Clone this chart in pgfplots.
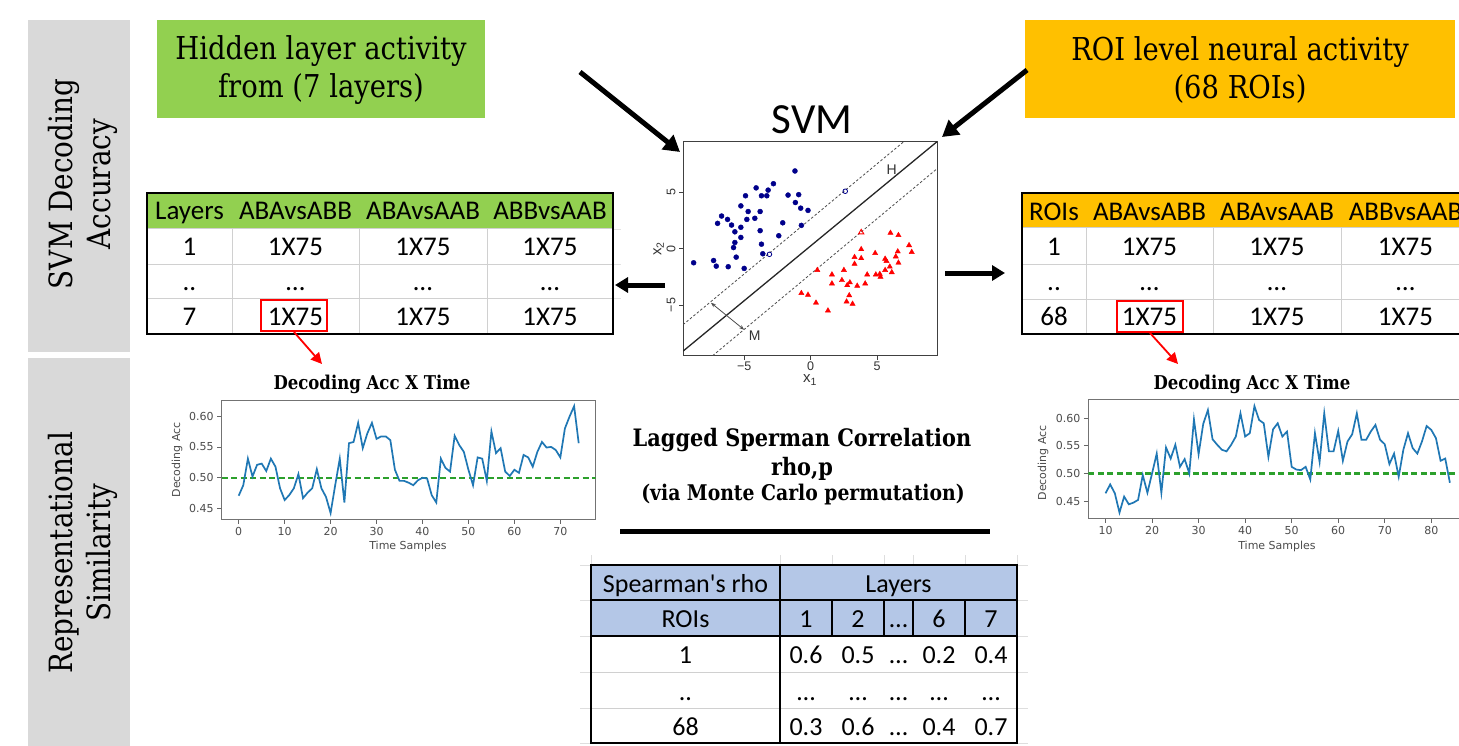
\documentclass[border=0pt]{standalone}
\usepackage{fontspec}
\usepackage{pgfplots}
\usepackage{pgfplotstable}
\pgfplotsset{compat=1.18}
\usetikzlibrary{arrows.meta}
\newfontfamily\slab[FakeStretch=0.87]{DejaVu Serif}
\newfontfamily\calib{Carlito}
\newfontfamily\dvs{DejaVu Sans}
\newfontfamily\lsans{Liberation Sans}
\definecolor{mygreen}{HTML}{92D050}
\definecolor{myorange}{HTML}{FFC000}
\definecolor{mygray}{HTML}{D9D9D9}
\definecolor{myblue}{HTML}{B4C7E7}
\definecolor{cz}{HTML}{1F77B4}
\definecolor{cg}{HTML}{2CA02C}
\definecolor{svmblue}{HTML}{00008B}
\definecolor{gridgray}{HTML}{D0D0D0}
\newcommand{\fs}[2]{\fontsize{#1}{#2}\selectfont}

\pgfplotstableread{
x y
0 0.471
1 0.488
2 0.531
3 0.502
4 0.521
5 0.523
6 0.511
7 0.531
8 0.518
9 0.483
10 0.464
11 0.472
12 0.483
13 0.506
14 0.467
15 0.476
16 0.483
17 0.514
18 0.483
19 0.469
20 0.443
21 0.488
22 0.531
23 0.460
24 0.556
25 0.558
26 0.589
27 0.548
28 0.572
29 0.589
30 0.563
31 0.567
32 0.567
33 0.561
34 0.513
35 0.495
36 0.495
37 0.492
38 0.488
39 0.496
40 0.500
41 0.499
42 0.472
43 0.460
44 0.531
45 0.516
46 0.510
47 0.568
48 0.553
49 0.542
50 0.513
51 0.488
52 0.533
53 0.531
54 0.495
55 0.575
56 0.540
57 0.548
58 0.510
59 0.503
60 0.513
61 0.508
62 0.537
63 0.533
64 0.518
65 0.542
66 0.558
67 0.549
68 0.550
69 0.545
70 0.533
71 0.580
72 0.599
73 0.616
74 0.556
}\layerdata

\pgfplotstableread{
x y
10 0.464
11 0.480
12 0.464
13 0.429
14 0.458
15 0.444
16 0.447
17 0.452
18 0.497
19 0.465
20 0.500
21 0.536
22 0.465
23 0.547
24 0.527
25 0.552
26 0.512
27 0.526
28 0.500
29 0.598
30 0.535
31 0.590
32 0.615
33 0.562
34 0.552
35 0.543
36 0.540
37 0.552
38 0.567
39 0.609
40 0.567
41 0.573
42 0.622
43 0.597
44 0.591
45 0.530
46 0.580
47 0.591
48 0.567
49 0.576
50 0.512
51 0.507
52 0.506
53 0.512
54 0.489
55 0.573
56 0.521
57 0.609
58 0.540
59 0.540
60 0.577
61 0.523
62 0.558
63 0.571
64 0.609
65 0.561
66 0.561
67 0.576
68 0.588
69 0.561
70 0.553
71 0.517
72 0.536
73 0.494
74 0.543
75 0.573
76 0.546
77 0.536
78 0.558
79 0.586
80 0.579
81 0.564
82 0.523
83 0.527
84 0.483
}\roidata

\begin{document}
\begin{tikzpicture}[x=1pt,y=-1pt]
\useasboundingbox (0,0) rectangle (1459,746);
\begin{scope}
\clip (0,0) rectangle (1459,746);
\fill[white] (0,0) rectangle (1459,746);

% side bars
\fill[mygray] (28,20) rectangle (130,352);
\fill[mygray] (28,358) rectangle (130,746);
\node[rotate=90, align=center, font=\slab\fs{32}{38}] at (83,184) {SVM Decoding\\Accuracy};
\node[rotate=90, align=center, font=\slab\fs{32}{38}] at (83,553) {Representational\\Similarity};

% top boxes
\fill[mygreen] (157,20) rectangle (485,118);
\node[align=center, font=\slab\fs{31.5}{38}] at (321,70) {Hidden layer activity\\from (7 layers)};
\fill[myorange] (1025,20) rectangle (1455,118);
\node[align=center, font=\slab\fs{31.5}{38}] at (1240,70) {ROI level neural activity\\(68 ROIs)};

% big arrows
\draw[line width=5pt, -{Triangle[length=16pt,width=18pt]}] (580,72) -- (680,152);
\draw[line width=5pt, -{Triangle[length=16pt,width=18pt]}] (1027,70) -- (942,137);
\draw[line width=5pt, -{Triangle[length=13pt,width=15pt]}] (665,285) -- (615,285);
\draw[line width=5pt, -{Triangle[length=13pt,width=15pt]}] (945,273) -- (1005,273);

\node[font=\calib\fs{43}{50}] at (812,120) {SVM};

% SVM scatter
\coordinate (svmNW) at (683,141.7);
\begin{axis}[at={(svmNW)}, anchor=north west, scale only axis,
  width=254pt, height=214pt,
  xmin=-9.6, xmax=9.5, ymin=-9.5, ymax=9.5,
  xtick={-5,0,5}, xticklabels={−5,0,5},
  ytick={-5,0,5}, yticklabels={−5,0,5},
  tick pos=left, tick align=outside, major tick length=4pt,
  axis line style={black!75, line width=0.9pt},
  tick style={black!75, line width=0.8pt},
  ticklabel style={font=\lsans\fs{12.5}{14}, text=black!80},
  xticklabel style={yshift=1pt},
  yticklabel style={rotate=90, anchor=south},
  xlabel={x\textsubscript{1}}, ylabel={x\textsubscript{2}},
  label style={font=\lsans\fs{15}{17}, text=black!80},
  xlabel style={yshift=3pt}, ylabel style={yshift=-4pt}]
\addplot[black!85, line width=1.3pt] coordinates {(-9.6,-9.1) (9.5,9.5)};
\addplot[black!70, line width=0.8pt, dash pattern=on 2.5pt off 2pt] coordinates {(-9.6,-6.75) (7.0,9.5)};
\addplot[black!70, line width=0.8pt, dash pattern=on 2.5pt off 2pt] coordinates {(-7.37,-9.5) (9.5,7.1)};
\addplot[black!70, line width=0.8pt, {Stealth[length=5pt]-Stealth[length=5pt]}] coordinates {(-7.5,-4.8) (-5.0,-7.2)};
\node[font=\lsans\fs{14}{16}, text=black!80] at (axis cs:6.1,7.0) {H};
\node[font=\lsans\fs{14}{16}, text=black!80] at (axis cs:-4.2,-7.7) {M};
\addplot[only marks, mark=*, mark size=2.5pt, svmblue] coordinates {
(-1.18,6.9) (-2.8,5.77) (-4.1,5.4) (-3.2,5.2) (-4.9,4.7) (-3.7,4.7) (-3.3,4.7)
(-1.7,4.76) (-0.9,4.8) (-1.15,4.1) (-5.25,3.8) (-0.75,3.6) (-0.2,3.4) (-4.7,3.3)
(-3.8,3.3) (-6.7,2.9) (-6.25,2.6) (-4.8,2.6) (-4.2,2.7) (-7.0,2.25) (-2.1,2.3)
(-5.95,2.1) (-0.7,2.07) (-5.25,1.9) (-5.7,1.5) (-3.8,1.6) (-5.25,1.0) (-2.4,1.15)
(-5.7,0.55) (-3.7,0.4) (-5.8,0.1) (-3.6,-0.45) (-5.6,-0.75) (-7.3,-1.05)
(-8.8,-1.25) (-7.1,-1.55) (-6.2,-1.6) (-5.0,-1.75)};
\addplot[only marks, mark=o, mark size=2.3pt, svmblue, line width=0.8pt] coordinates {(2.6,5.1) (-3.1,-0.5)};
\addplot[only marks, mark=triangle*, mark size=3pt, red] coordinates {
(6.0,1.4) (6.6,1.2) (7.4,0.3) (7.6,-0.3) (6.55,-0.25) (3.8,-0.05) (4.85,-0.4)
(3.3,-0.75) (3.8,-0.85) (6.4,-0.7) (5.6,-0.9) (5.7,-1.1) (6.6,-1.25) (3.3,-1.35)
(5.95,-1.6) (5.6,-1.9) (0.5,-1.9) (2.5,-1.9) (6.1,-2.1) (1.6,-2.3) (4.25,-2.3)
(4.9,-2.3) (5.2,-2.25) (5.25,-2.5) (2.35,-2.8) (2.95,-3.0) (1.6,-3.1) (4.1,-3.1)
(2.75,-3.25) (3.5,-3.3) (-0.7,-3.95) (-0.2,-4.1) (2.9,-4.15) (0.4,-4.8)
(2.7,-4.7) (3.15,-4.9) (1.3,-5.5)};
\addplot[only marks, mark=triangle, mark size=3pt, red, line width=0.9pt] coordinates {(3.8,1.45)};
\end{axis}

% left table
\fill[mygreen] (147,193) rectangle (613,229);
\draw[gridgray, line width=1pt] (147,229) -- (613,229) (147,264) -- (613,264) (147,298) -- (613,298)
  (232,229) -- (232,334) (359,229) -- (359,334) (487,229) -- (487,334);
\draw[gridgray!60, line width=0.8pt] (613,229) -- (621,229) (613,264) -- (621,264) (613,298) -- (621,298);
\draw[black, line width=2pt] (147,193) rectangle (613,334);
\begin{scope}[every node/.style={font=\calib\fs{27}{32}, anchor=base, inner sep=0pt}]
\node at (189.5,220) {Layers}; \node at (295.5,220) {ABAvsABB}; \node at (423,220) {ABAvsAAB}; \node at (550,220) {ABBvsAAB};
\node at (189.5,255) {1}; \node at (295.5,255) {1X75}; \node at (423,255) {1X75}; \node at (550,255) {1X75};
\node at (189.5,290) {..}; \node at (295.5,290) {…}; \node at (423,290) {…}; \node at (550,290) {…};
\node at (189.5,325) {7}; \node at (295.5,325) {1X75}; \node at (423,325) {1X75}; \node at (550,325) {1X75};
\end{scope}
\draw[red, line width=2pt] (260.7,300) rectangle (326.7,330.7);
\draw[red, line width=1.8pt, -{Triangle[length=11pt,width=11pt]}] (294,332) -- (322,364);

% right table
\fill[myorange] (1022,193) rectangle (1470,228);
\draw[gridgray, line width=1pt] (1022,228) -- (1470,228) (1022,264) -- (1470,264) (1022,299) -- (1470,299)
  (1086,228) -- (1086,334) (1213,228) -- (1213,334) (1341,228) -- (1341,334);
\draw[black, line width=2pt] (1022,193) rectangle (1470,334);
\begin{scope}[every node/.style={font=\calib\fs{27}{32}, anchor=base, inner sep=0pt}]
\node at (1054,221) {ROIs}; \node at (1149.5,221) {ABAvsABB}; \node at (1277,221) {ABAvsAAB}; \node at (1405.5,221) {ABBvsAAB};
\node at (1054,255) {1}; \node at (1149.5,255) {1X75}; \node at (1277,255) {1X75}; \node at (1405.5,255) {1X75};
\node at (1054,290) {..}; \node at (1149.5,290) {…}; \node at (1277,290) {…}; \node at (1405.5,290) {…};
\node at (1054,325) {68}; \node at (1149.5,325) {1X75}; \node at (1277,325) {1X75}; \node at (1405.5,325) {1X75};
\end{scope}
\draw[red, line width=2pt] (1116.7,301) rectangle (1182.7,331.7);
\draw[red, line width=1.8pt, -{Triangle[length=11pt,width=11pt]}] (1150,333) -- (1178,364);

% left line plot
\node[font=\slab\bfseries\fs{19}{22}] at (372,384) {Decoding Acc X Time};
\coordinate (lpNW) at (221.7,400.7);
\begin{axis}[at={(lpNW)}, anchor=north west, scale only axis,
  width=374pt, height=118.3pt,
  xmin=-3.7, xmax=77.7, ymin=0.4333, ymax=0.6248,
  xtick={0,10,20,30,40,50,60,70}, xticklabels={0,10,20,30,40,50,60,70},
  ytick={0.45,0.5,0.55,0.6}, yticklabels={0.45,0.50,0.55,0.60},
  tick pos=left, tick align=outside, major tick length=4.5pt,
  axis line style={black!55, line width=1pt},
  tick style={black!60, line width=0.8pt},
  ticklabel style={font=\dvs\fs{11}{13}, text=black!70}]
\addplot[color=cg, line width=2pt, dash pattern=on 6pt off 3.5pt] coordinates {(-3.7,0.5) (77.7,0.5)};
\addplot[color=cz, line width=1.7pt] table[x=x,y=y] {\layerdata};
\end{axis}
\node[font=\dvs\fs{11}{13}, text=black!70] at (408,546) {Time Samples};
\node[font=\dvs\fs{11}{13}, text=black!70, rotate=90] at (177,460) {Decoding Acc};

% right line plot
\node[font=\slab\bfseries\fs{19}{22}] at (1252,384) {Decoding Acc X Time};
\coordinate (rpNW) at (1088.3,399.3);
\begin{axis}[at={(rpNW)}, anchor=north west, scale only axis,
  width=378.8pt, height=119pt,
  xmin=6.3, xmax=87.7, ymin=0.4186, ymax=0.6345,
  xtick={10,20,30,40,50,60,70,80}, xticklabels={10,20,30,40,50,60,70,80},
  ytick={0.45,0.5,0.55,0.6}, yticklabels={0.45,0.50,0.55,0.60},
  tick pos=left, tick align=outside, major tick length=4.5pt,
  axis line style={black!55, line width=1pt},
  tick style={black!60, line width=0.8pt},
  ticklabel style={font=\dvs\fs{11}{13}, text=black!70}]
\addplot[draw=cg, line width=2.2pt, dash pattern=on 6pt off 3.5pt] coordinates {(6.3,0.5) (87.7,0.5)};
\addplot[color=cz, line width=1.7pt] table[x=x,y=y] {\roidata};
\end{axis}
\node[font=\dvs\fs{11}{13}, text=black!70] at (1277,546) {Time Samples};
\node[font=\dvs\fs{11}{13}, text=black!70, rotate=90] at (1043,463) {Decoding Acc};

% lagged text
\node[font=\slab\bfseries\fs{24}{28}] at (802,440) {Lagged Sperman Correlation};
\node[font=\slab\bfseries\fs{24}{28}] at (802,469) {rho,p};
\node[font=\slab\bfseries\fs{21.6}{25}] at (803,495) {(via Monte Carlo permutation)};
\draw[line width=5pt] (620,531) -- (990,531);

% bottom table
\draw[gridgray!70, line width=0.8pt] (580,565) -- (1028,565) (580,600) -- (1028,600) (580,636) -- (1028,636)
  (580,672) -- (1028,672) (580,708) -- (1028,708) (580,743) -- (1028,743)
  (780,555) -- (780,565) (832,555) -- (832,565) (884,555) -- (884,565) (913,555) -- (913,565)
  (965,555) -- (965,565) (1017,555) -- (1017,565) (591,555) -- (591,565);
\fill[myblue] (591,565) rectangle (1017,636);
\draw[gridgray, line width=1pt] (591,672) -- (1017,672) (591,708) -- (1017,708);
\draw[black, line width=1.6pt] (591,600) -- (1017,600) (591,636) -- (1017,636) (780,565) -- (780,743)
  (832,600) -- (832,636) (884,600) -- (884,636) (913,600) -- (913,636) (965,600) -- (965,636);
\draw[black, line width=2pt] (591,565) rectangle (1017,743);
\begin{scope}[every node/.style={font=\calib\fs{26}{31}, anchor=base, inner sep=0pt}]
\node at (685.5,592) {Spearman's rho}; \node at (898.5,592) {Layers};
\node at (685.5,627) {ROIs}; \node at (806,627) {1}; \node at (858,627) {2}; \node at (898.5,627) {…}; \node at (939,627) {6}; \node at (991,627) {7};
\node at (685.5,663) {1}; \node at (806,663) {0.6}; \node at (858,663) {0.5}; \node at (898.5,663) {…}; \node at (939,663) {0.2}; \node at (991,663) {0.4};
\node at (685.5,700) {..}; \node at (806,700) {…}; \node at (858,700) {…}; \node at (898.5,700) {…}; \node at (939,700) {…}; \node at (991,700) {…};
\node at (685.5,735) {68}; \node at (806,735) {0.3}; \node at (858,735) {0.6}; \node at (898.5,735) {…}; \node at (939,735) {0.4}; \node at (991,735) {0.7};
\end{scope}
\end{scope}
\end{tikzpicture}
\end{document}
